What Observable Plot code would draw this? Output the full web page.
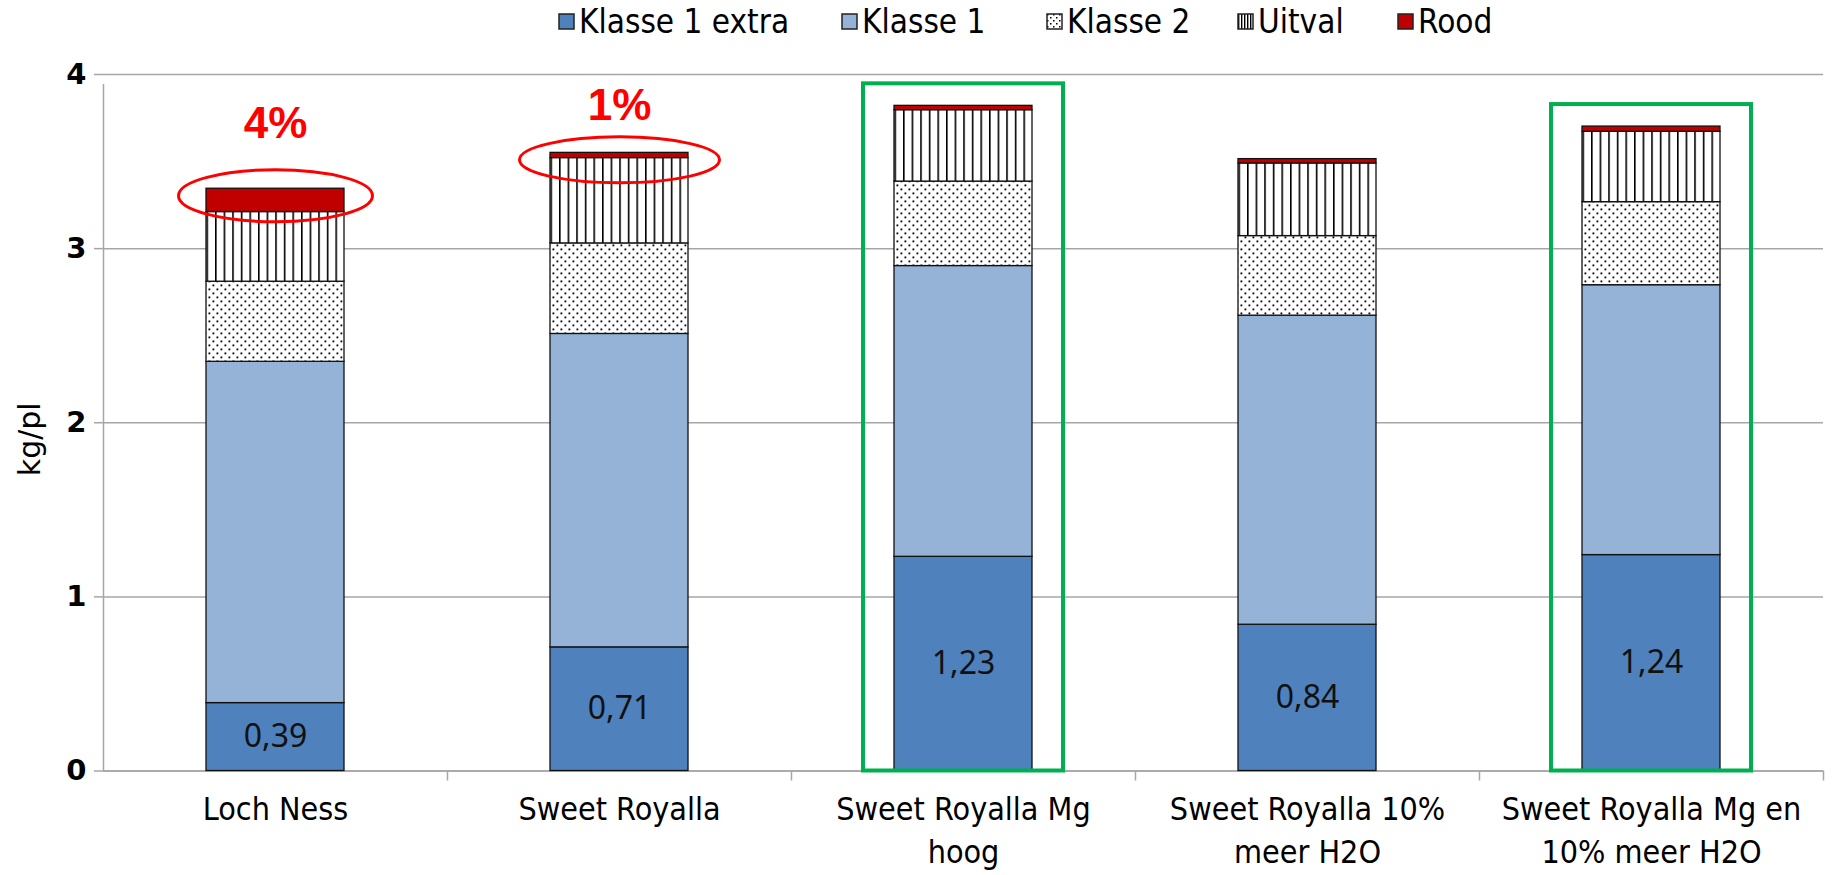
<!DOCTYPE html>
<html><head><meta charset="utf-8">
<script src="https://cdn.jsdelivr.net/npm/d3@7"></script>
<script src="https://cdn.jsdelivr.net/npm/@observablehq/plot@0.6"></script>
<style>
body{margin:0;background:#fff;}
#legend{position:relative;height:48px;font-family:"DejaVu Sans Condensed","DejaVu Sans",sans-serif;font-stretch:condensed;font-size:33px;color:#000;}
.item{position:absolute;top:2px;display:flex;align-items:center;white-space:nowrap;}
.xl text{font-stretch:condensed;}
</style></head><body>
<div id="legend"></div>
<div id="chart"></div>
<script>
const categories = ["Loch Ness","Sweet Royalla","Sweet Royalla Mg hoog","Sweet Royalla 10% meer H2O","Sweet Royalla Mg en 10% meer H2O"];
const tickLabels = ["Loch Ness","Sweet Royalla","Sweet Royalla Mg\nhoog","Sweet Royalla 10%\nmeer H2O","Sweet Royalla Mg en\n10% meer H2O"];
const series = ["Klasse 1 extra","Klasse 1","Klasse 2","Uitval","Rood"];
const klasse1Extra = [0.39,0.71,1.23,0.84,1.24];
const klasse1 = [1.96,1.80,1.67,1.775,1.55];
const klasse2 = [0.46,0.52,0.485,0.457,0.477];
const uitval = [0.40,0.49,0.41,0.417,0.404];
const rood = [0.134,0.03,0.025,0.025,0.03];
const roodLabels = ["4%","1%"];
const highlighted = ["Sweet Royalla Mg hoog","Sweet Royalla Mg en 10% meer H2O"];
const yTicks = [0,1,2,3,4];

const seriesValues = [klasse1Extra,klasse1,klasse2,uitval,rood];
const colors = ["#4F81BD","#95B3D7","url(#dots)","url(#vlines)","#C00000"];
const data = [];
series.forEach((s,si)=>categories.forEach((c,ci)=>data.push({category:c,series:s,value:seriesValues[si][ci]})));
const totals = categories.map((c,ci)=>({category:c,total:seriesValues.reduce((a,v)=>a+v[ci],0)}));
const fmt = v => v.toFixed(2).replace(".",",");

function ellipseSymbol(rx, ry){
  const k=0.5523;
  return {draw(ctx){
    ctx.moveTo(rx,0);
    ctx.bezierCurveTo(rx,ry*k,rx*k,ry,0,ry);
    ctx.bezierCurveTo(-rx*k,ry,-rx,ry*k,-rx,0);
    ctx.bezierCurveTo(-rx,-ry*k,-rx*k,-ry,0,-ry);
    ctx.bezierCurveTo(rx*k,-ry,rx,-ry*k,rx,0);
    ctx.closePath();
  }};
}
const W=1836, H=827, mL=103, mR=13, mT=26, mB=104.5, step=(W-mL-mR)/categories.length;
const ellipseDims=[[97,26],[100,23]];
const labelDy=[-65,-47];

const marks = [
  Plot.gridY(yTicks,{stroke:"#a6a6a6",strokeOpacity:1,strokeWidth:1.5}),
  Plot.axisY({ticks:yTicks,tickSize:9,tickPadding:8,stroke:"#a6a6a6",strokeWidth:1.5,fontSize:29,fontWeight:"bold",fontFamily:"DejaVu Sans",fill:"#000",tickFormat:d=>String(d),label:null}),
  Plot.axisX({tickSize:0,tickPadding:18,fontSize:32,lineHeight:1.35,fontFamily:"DejaVu Sans Condensed, DejaVu Sans, sans-serif",fill:"#000",className:"xl",tickFormat:c=>tickLabels[categories.indexOf(c)],label:null}),
  Plot.ruleY([0],{stroke:"#a6a6a6",strokeWidth:1.5}),
  Plot.ruleX([categories[0]],{x:d=>d,y1:0,y2:4,dx:-step/2,insetBottom:-10,stroke:"#a6a6a6",strokeWidth:1.5}),
  Plot.ruleX(categories.slice(1),{x:d=>d,y1:0,y2:0,dx:-step/2,insetBottom:-10,stroke:"#a6a6a6",strokeWidth:1.5}),
  Plot.ruleX([categories[categories.length-1]],{x:d=>d,y1:0,y2:0,dx:step/2,insetBottom:-10,stroke:"#a6a6a6",strokeWidth:1.5}),
  Plot.barY(data,{x:"category",y:"value",fill:"series",stroke:"#111",strokeWidth:1.3}),
  Plot.barY(totals.filter(d=>highlighted.includes(d.category)),{x:"category",y1:0,y2:"total",insetTop:-22,insetLeft:-31,insetRight:-31,fill:"none",stroke:"#00B050",strokeWidth:4}),
  Plot.text(klasse1Extra,{x:(d,i)=>categories[i],y:d=>d/2,text:fmt,fontSize:32,fontFamily:"Noto Sans",fill:"#111"}),
  ...roodLabels.map((t,i)=>Plot.dot([totals[i]],{x:"category",y:"total",r:1,symbol:ellipseSymbol(...ellipseDims[i]),fill:"none",stroke:"#FF0000",strokeWidth:3,dy:7})),
  ...roodLabels.map((t,i)=>Plot.text([totals[i]],{x:"category",y:"total",text:()=>t,dy:labelDy[i],fontSize:44,fontWeight:"bold",fontFamily:"Liberation Sans",fill:"#FF0000"}))
];

const chart = Plot.plot({
  width:W,height:H,marginLeft:mL,marginRight:mR,marginTop:mT,marginBottom:mB,
  style:{background:"#fff",overflow:"visible"},
  x:{domain:categories,paddingInner:0.6,paddingOuter:0.3},
  y:{domain:[0,4]},
  color:{domain:series,range:colors},
  marks
});
const defs = d3.select(chart).insert("defs",":first-child");
const dots = defs.append("pattern").attr("id","dots").attr("patternUnits","userSpaceOnUse").attr("width",8).attr("height",8);
dots.append("rect").attr("width",8).attr("height",8).attr("fill","#fff");
dots.append("rect").attr("x",0.5).attr("y",0.5).attr("width",1.8).attr("height",1.8).attr("fill","#000");
dots.append("rect").attr("x",4.5).attr("y",4.5).attr("width",1.8).attr("height",1.8).attr("fill","#000");
const vl = defs.append("pattern").attr("id","vlines").attr("patternUnits","userSpaceOnUse").attr("width",8.6).attr("height",8);
vl.append("rect").attr("width",8.6).attr("height",8).attr("fill","#fff");
vl.append("rect").attr("x",0).attr("width",1.6).attr("height",8).attr("fill","#000");
d3.select(chart).selectAll(".xl text").style("font-stretch","condensed");
document.getElementById("chart").appendChild(chart);

// y-axis title
d3.select(chart).append("text").attr("transform",`translate(29,${mT+(H-mT-mB)/2+17}) rotate(-90)`)
  .attr("text-anchor","middle").attr("dy","0.35em").attr("font-family","DejaVu Sans").attr("font-size",30).attr("fill","#000").text("kg/pl");

// legend
const legendX=[558,841,1046,1237,1397];
const legendFill=["#4F81BD","#95B3D7","url(#dots)","url(#vlines)","#C00000"];
const lg=document.getElementById("legend");
series.forEach((s,i)=>{
  const it=document.createElement("div");it.className="item";it.style.left=legendX[i]+"px";
  const sw=document.createElementNS("http://www.w3.org/2000/svg","svg");
  sw.setAttribute("width",17);sw.setAttribute("height",17);sw.style.marginRight="4px";
  sw.innerHTML=`<defs><pattern id="ld${i}" patternUnits="userSpaceOnUse" width="6" height="6"><rect width="6" height="6" fill="#fff"/>${i==2?'<rect x="1" y="1" width="1.5" height="1.5" fill="#000"/><rect x="4" y="4" width="1.5" height="1.5" fill="#000"/>':i==3?'<rect x="1" width="1.4" height="6" fill="#000"/><rect x="4" width="1.4" height="6" fill="#000"/>':''}</pattern></defs><rect x="1" y="1" width="15" height="15" fill="${i==2||i==3?`url(#ld${i})`:legendFill[i]}" stroke="#222" stroke-width="1.5"/>`;
  it.appendChild(sw);
  const tx=document.createElement("span");tx.textContent=s;it.appendChild(tx);
  lg.appendChild(it);
});
</script>
</body></html>
